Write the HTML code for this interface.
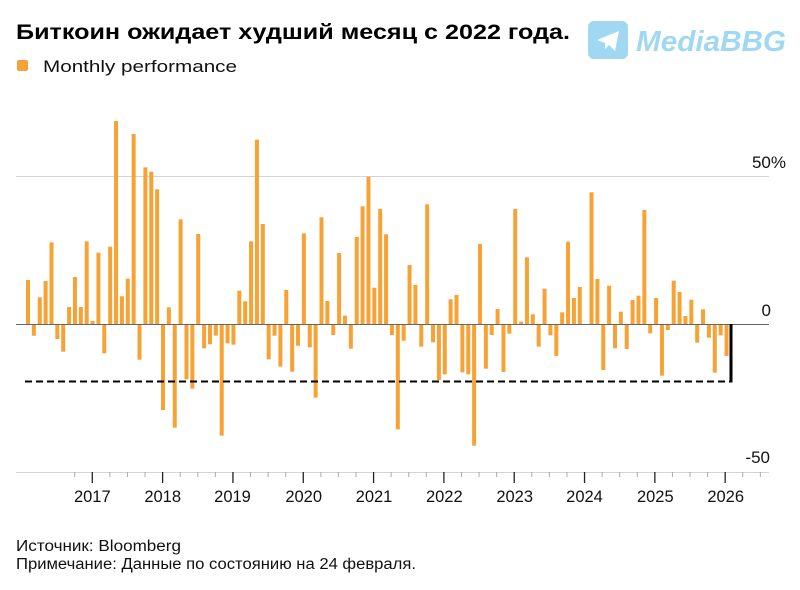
<!DOCTYPE html>
<html><head><meta charset="utf-8"><style>
html,body{margin:0;padding:0;background:#fff;}
svg{display:block;font-family:"Liberation Sans","Noto Sans CJK SC",sans-serif;}
</style></head><body>
<svg id="s" width="800" height="590" viewBox="0 0 800 590" xmlns="http://www.w3.org/2000/svg">
<text x="16" y="39" font-size="21" font-weight="bold" fill="#000" textLength="554" lengthAdjust="spacingAndGlyphs">Биткоин ожидает худший месяц с 2022 года.</text>
<rect x="17" y="60" width="11" height="11" rx="2" fill="#f7a234"/>
<text x="43" y="72" font-size="17" fill="#111" textLength="194" lengthAdjust="spacingAndGlyphs">Monthly performance</text>
<rect x="588" y="21" width="40" height="38" rx="6" fill="#9fd8f0"/>
<path d="M597 40 L619 31 L615 51 L609 45 L605 49 L605 43 Z" fill="#fff"/>
<text x="636" y="51" font-size="29" font-weight="bold" font-style="italic" fill="#9fd8f0" textLength="150" lengthAdjust="spacingAndGlyphs">MediaBBG</text>
<line x1="16" y1="176.5" x2="769" y2="176.5" stroke="#d4d4d4" stroke-width="1"/>
<line x1="16" y1="472.5" x2="769" y2="472.5" stroke="#d4d4d4" stroke-width="1"/>
<g id="bars"></g>
<line x1="16" y1="324.5" x2="769" y2="324.5" stroke="#666" stroke-width="1"/>
<line x1="25" y1="381.5" x2="730" y2="381.5" stroke="#000" stroke-width="2" stroke-dasharray="7,4"/>
<line x1="731" y1="324" x2="731" y2="382.5" stroke="#000" stroke-width="3"/>
<g id="ticks"></g>
<g font-size="17" fill="#111">
<text x="786" y="168" text-anchor="end">50%</text>
<text x="771" y="316" text-anchor="end">0</text>
<text x="770" y="463" text-anchor="end">-50</text>
</g>
<g font-size="16.5" fill="#111" text-anchor="middle">
<text x="92.3" y="502">2017</text><text x="162.7" y="502">2018</text><text x="232.5" y="502">2019</text>
<text x="303.7" y="502">2020</text><text x="374" y="502">2021</text><text x="444.3" y="502">2022</text>
<text x="514.7" y="502">2023</text><text x="584.5" y="502">2024</text><text x="655.3" y="502">2025</text>
<text x="725.7" y="502">2026</text>
</g>
<g font-size="15.5" fill="#111">
<text x="16" y="551" textLength="165" lengthAdjust="spacingAndGlyphs">Источник: Bloomberg</text>
<text x="16" y="569" textLength="400" lengthAdjust="spacingAndGlyphs">Примечание: Данные по состоянию на 24 февраля.</text>
</g>
</svg>
<script>
var v=[132,-35,80,129,245,-45,-83,51,141,51,248,9,214,-88,232,609,83,136,570,-107,470,457,404,-258,50,-311,314,-166,-194,270,-73,-61,-35,-335,-58,-62,100,68,248,553,300,-106,-35,-128,102,-143,-65,272,-70,-221,320,69,-33,213,25,-74,261,353,442,109,345,269,-33,-316,-50,177,117,-68,359,-55,-168,-151,74,87,-145,-151,-365,240,-134,-33,45,-144,-29,345,7,200,29,-68,106,-34,-96,35,247,78,111,0,395,135,-138,115,-73,37,-75,72,85,342,-28,78,-155,-18,130,96,24,73,-56,44,-41,-146,-34,-96];
var ns="http://www.w3.org/2000/svg",g=document.getElementById("bars"),t=document.getElementById("ticks");
for(var i=0;i<v.length;i++){var h=v[i]/3;if(Math.abs(h)<0.5)continue;var r=document.createElementNS(ns,"rect");
var cx=28+i*5.87;r.setAttribute("x",(cx-2).toFixed(2));r.setAttribute("width","4");
r.setAttribute("y",(h>0?324-h:324).toFixed(2));r.setAttribute("height",Math.abs(h).toFixed(2));r.setAttribute("fill","#f7a234");g.appendChild(r);}
for(var k=0;k<41;k++){var major=(k%4==1);var l=document.createElementNS(ns,"line");
var xx=92.3+(k-1)*17.58;l.setAttribute("x1",xx);l.setAttribute("x2",xx);l.setAttribute("y1",472);l.setAttribute("y2",major?483:477);
l.setAttribute("stroke",major?"#222":"#aaa");l.setAttribute("stroke-width",major?1.3:1);if(xx>16&&xx<769)t.appendChild(l);}
</script>
</body></html>
